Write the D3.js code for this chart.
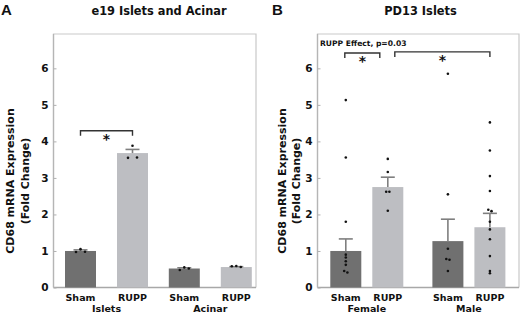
<!DOCTYPE html>
<html><head><meta charset="utf-8">
<script src="https://cdn.jsdelivr.net/npm/d3@7"></script>
<style>body{margin:0;background:#fff}svg{display:block}</style>
</head><body><svg id="c" width="520" height="312"></svg>
<script>
// ---- Data ----
const yTicks = [0, 1, 2, 3, 4, 5, 6];
const barLevels = ["Sham", "RUPP"];
// Panel A
const groupsA = ["Islets", "Acinar"];
const meansA = [[1.00, 3.68], [0.52, 0.56]];
const semsA = [[0.03, 0.10], [0.02, 0.01]];
const pointsA = [
  [[0.97, 1.05, 0.98], [3.55, 3.88, 3.56]],
  [[0.48, 0.55, 0.52], [0.58, 0.59, 0.56]]
];
// Panel B
const groupsB = ["Female", "Male"];
const meansB = [[1.00, 2.75], [1.27, 1.65]];
const semsB = [[0.33, 0.27], [0.60, 0.38]];
const pointsB = [
  [[5.13, 3.56, 1.80, 0.90, 0.82, 0.72, 0.62, 0.45, 0.41], [3.52, 3.16, 2.62, 2.62, 2.10]],
  [[5.85, 2.55, 1.06, 0.78, 0.76, 0.45], [4.52, 3.75, 3.05, 2.64, 2.13, 2.09, 1.80, 1.59, 1.32, 0.86, 0.45, 0.39]]
];
const titles = ["e19 Islets and Acinar", "PD13 Islets"];
const panelLetters = ["A", "B"];
const yLabel1 = "CD68 mRNA Expression";
const yLabel2 = "(Fold Change)";
const noteB = "RUPP Effect, p=0.03";

// ---- Drawing ----
const svg = d3.select("#c");
const colors = {Sham: "#707070", RUPP: "#bdbec2"};
const FONT = "'DejaVu Sans', Verdana, sans-serif";
const yMax = 6.94;

function panel(cfg) {
  const y = d3.scaleLinear().domain([0, yMax]).range([287.5, 34]);
  const gx = d3.scalePoint().domain(cfg.groups).range(cfg.groupRange);
  const ix = d3.scalePoint().domain(barLevels).range([-cfg.inner, cfg.inner]);
  const cx = (g, l) => gx(g) + ix(l);
  const g = svg.append("g");
  const L = cfg.left, R = cfg.right;

  // frame
  g.append("path").attr("d", `M${L},${y(0)}V${y(yMax)}H${R}V${y(0)}`)
    .attr("fill", "none").attr("stroke", "#c9c9c9").attr("stroke-width", 1.2);
  g.append("line").attr("x1", L).attr("x2", R).attr("y1", y(0)).attr("y2", y(0))
    .attr("stroke", "#a8a8a8").attr("stroke-width", 1.5);
  g.append("line").attr("x1", L).attr("x2", L).attr("y1", y(0)).attr("y2", y(yMax))
    .attr("stroke", "#b5b5b5").attr("stroke-width", 1.3);

  // y axis
  const ax = g.append("g").attr("transform", `translate(${L},0)`)
    .call(d3.axisRight(y).tickValues(yTicks).tickSize(3).tickFormat(d3.format("d")));
  ax.select(".domain").remove();
  ax.selectAll(".tick line").attr("stroke", "#b0b0b0");
  ax.selectAll(".tick text").attr("x", -5).attr("text-anchor", "end")
    .attr("font-family", FONT).attr("font-weight", "bold").attr("font-size", 10.5).attr("fill", "#111");

  // bars
  const W = 31;
  cfg.groups.forEach((grp, gi) => {
    barLevels.forEach((lvl, li) => {
      const c = cx(grp, lvl), m = cfg.means[gi][li], s = cfg.sems[gi][li];
      g.append("rect").attr("x", c - W / 2).attr("width", W)
        .attr("y", y(m)).attr("height", y(0) - y(m)).attr("fill", colors[lvl]);
      g.append("line").attr("x1", c).attr("x2", c).attr("y1", y(m)).attr("y2", y(m + s))
        .attr("stroke", "#7f7f7f").attr("stroke-width", 1.6);
      g.append("line").attr("x1", c - 7).attr("x2", c + 7).attr("y1", y(m + s)).attr("y2", y(m + s))
        .attr("stroke", "#7f7f7f").attr("stroke-width", 1.6);
      const pts = cfg.points[gi][li];
      pts.forEach((v, k) => {
        let off = 0;
        if (pts.length <= 3) off = [-4.5, 0, 4.5][k];
        else {
          const dup = pts.findIndex((w, j) => j < k && Math.abs(w - v) < 0.06);
          const dupAfter = pts.findIndex((w, j) => j > k && Math.abs(w - v) < 0.06);
          if (dup >= 0) off = 1.6; else if (dupAfter >= 0) off = -1.6;
        }
        g.append("circle").attr("cx", c + off).attr("cy", y(v)).attr("r", 1.3).attr("fill", "#111");
      });
      g.append("text").attr("x", c).attr("y", 301).attr("text-anchor", "middle")
        .attr("font-family", FONT).attr("font-weight", "bold").attr("font-size", 9.5).attr("fill", "#111").text(lvl);
    });
    g.append("text").attr("x", gx(grp)).attr("y", 311.5).attr("text-anchor", "middle")
      .attr("font-family", FONT).attr("font-weight", "bold").attr("font-size", 9.5).attr("fill", "#111").text(grp);
  });

  // title & letter
  g.append("text").attr("x", cfg.titleX).attr("y", 15).attr("text-anchor", "middle")
    .attr("font-family", FONT).attr("font-weight", "bold").attr("font-size", 11.4).attr("fill", "#111").text(cfg.title);
  g.append("text").attr("x", cfg.letterX).attr("y", 15)
    .attr("font-family", "'Liberation Sans', Arial, sans-serif").attr("font-weight", "bold").attr("font-size", 15).attr("fill", "#111").text(cfg.letter);

  // y label
  const yc = 181;
  g.append("text").attr("transform", `translate(${cfg.ylabX[0]},${yc}) rotate(-90)`).attr("text-anchor", "middle")
    .attr("font-family", FONT).attr("font-weight", "bold").attr("font-size", 11).attr("fill", "#111").text(yLabel1);
  g.append("text").attr("transform", `translate(${cfg.ylabX[1]},${yc}) rotate(-90)`).attr("text-anchor", "middle")
    .attr("font-family", FONT).attr("font-weight", "bold").attr("font-size", 11).attr("fill", "#111").text(yLabel2);

  // significance brackets
  cfg.brackets.forEach(b => {
    const x1 = cx(b.from[0], b.from[1]) + b.off[0], x2 = cx(b.to[0], b.to[1]) + b.off[1];
    const yb = y(b.level);
    g.append("path").attr("d", `M${x1},${yb + 5}V${yb}H${x2}V${yb + 5}`)
      .attr("fill", "none").attr("stroke", "#333").attr("stroke-width", 1.4);
    g.append("text").attr("x", (x1 + x2) / 2).attr("y", yb + 13).attr("text-anchor", "middle")
      .attr("font-family", FONT).attr("font-weight", "bold").attr("font-size", 14).attr("fill", "#111").text("*");
  });
  return {g, y};
}

panel({
  groups: groupsA, groupRange: [106.5, 210.3], inner: 26, means: meansA, sems: semsA, points: pointsA,
  left: 53.5, right: 256, title: titles[0], titleX: 159, letter: panelLetters[0], letterX: 1,
  ylabX: [13.5, 28.5],
  brackets: [{from: ["Islets", "Sham"], to: ["Islets", "RUPP"], off: [0, 0], level: 4.29}]
});
const pB = panel({
  groups: groupsB, groupRange: [366.8, 468.9], inner: 21, means: meansB, sems: semsB, points: pointsB,
  left: 317.5, right: 519, title: titles[1], titleX: 420.5, letter: panelLetters[1], letterX: 272,
  ylabX: [285.5, 299.5],
  brackets: [
    {from: ["Female", "Sham"], to: ["Female", "RUPP"], off: [-1, -8], level: 6.42},
    {from: ["Female", "RUPP"], to: ["Male", "RUPP"], off: [7, 0], level: 6.45}
  ]
});
pB.g.append("text").attr("x", 320).attr("y", 45.5)
  .attr("font-family", FONT).attr("font-weight", "bold").attr("font-size", 7.6).attr("fill", "#111").text(noteB);
</script></body></html>
